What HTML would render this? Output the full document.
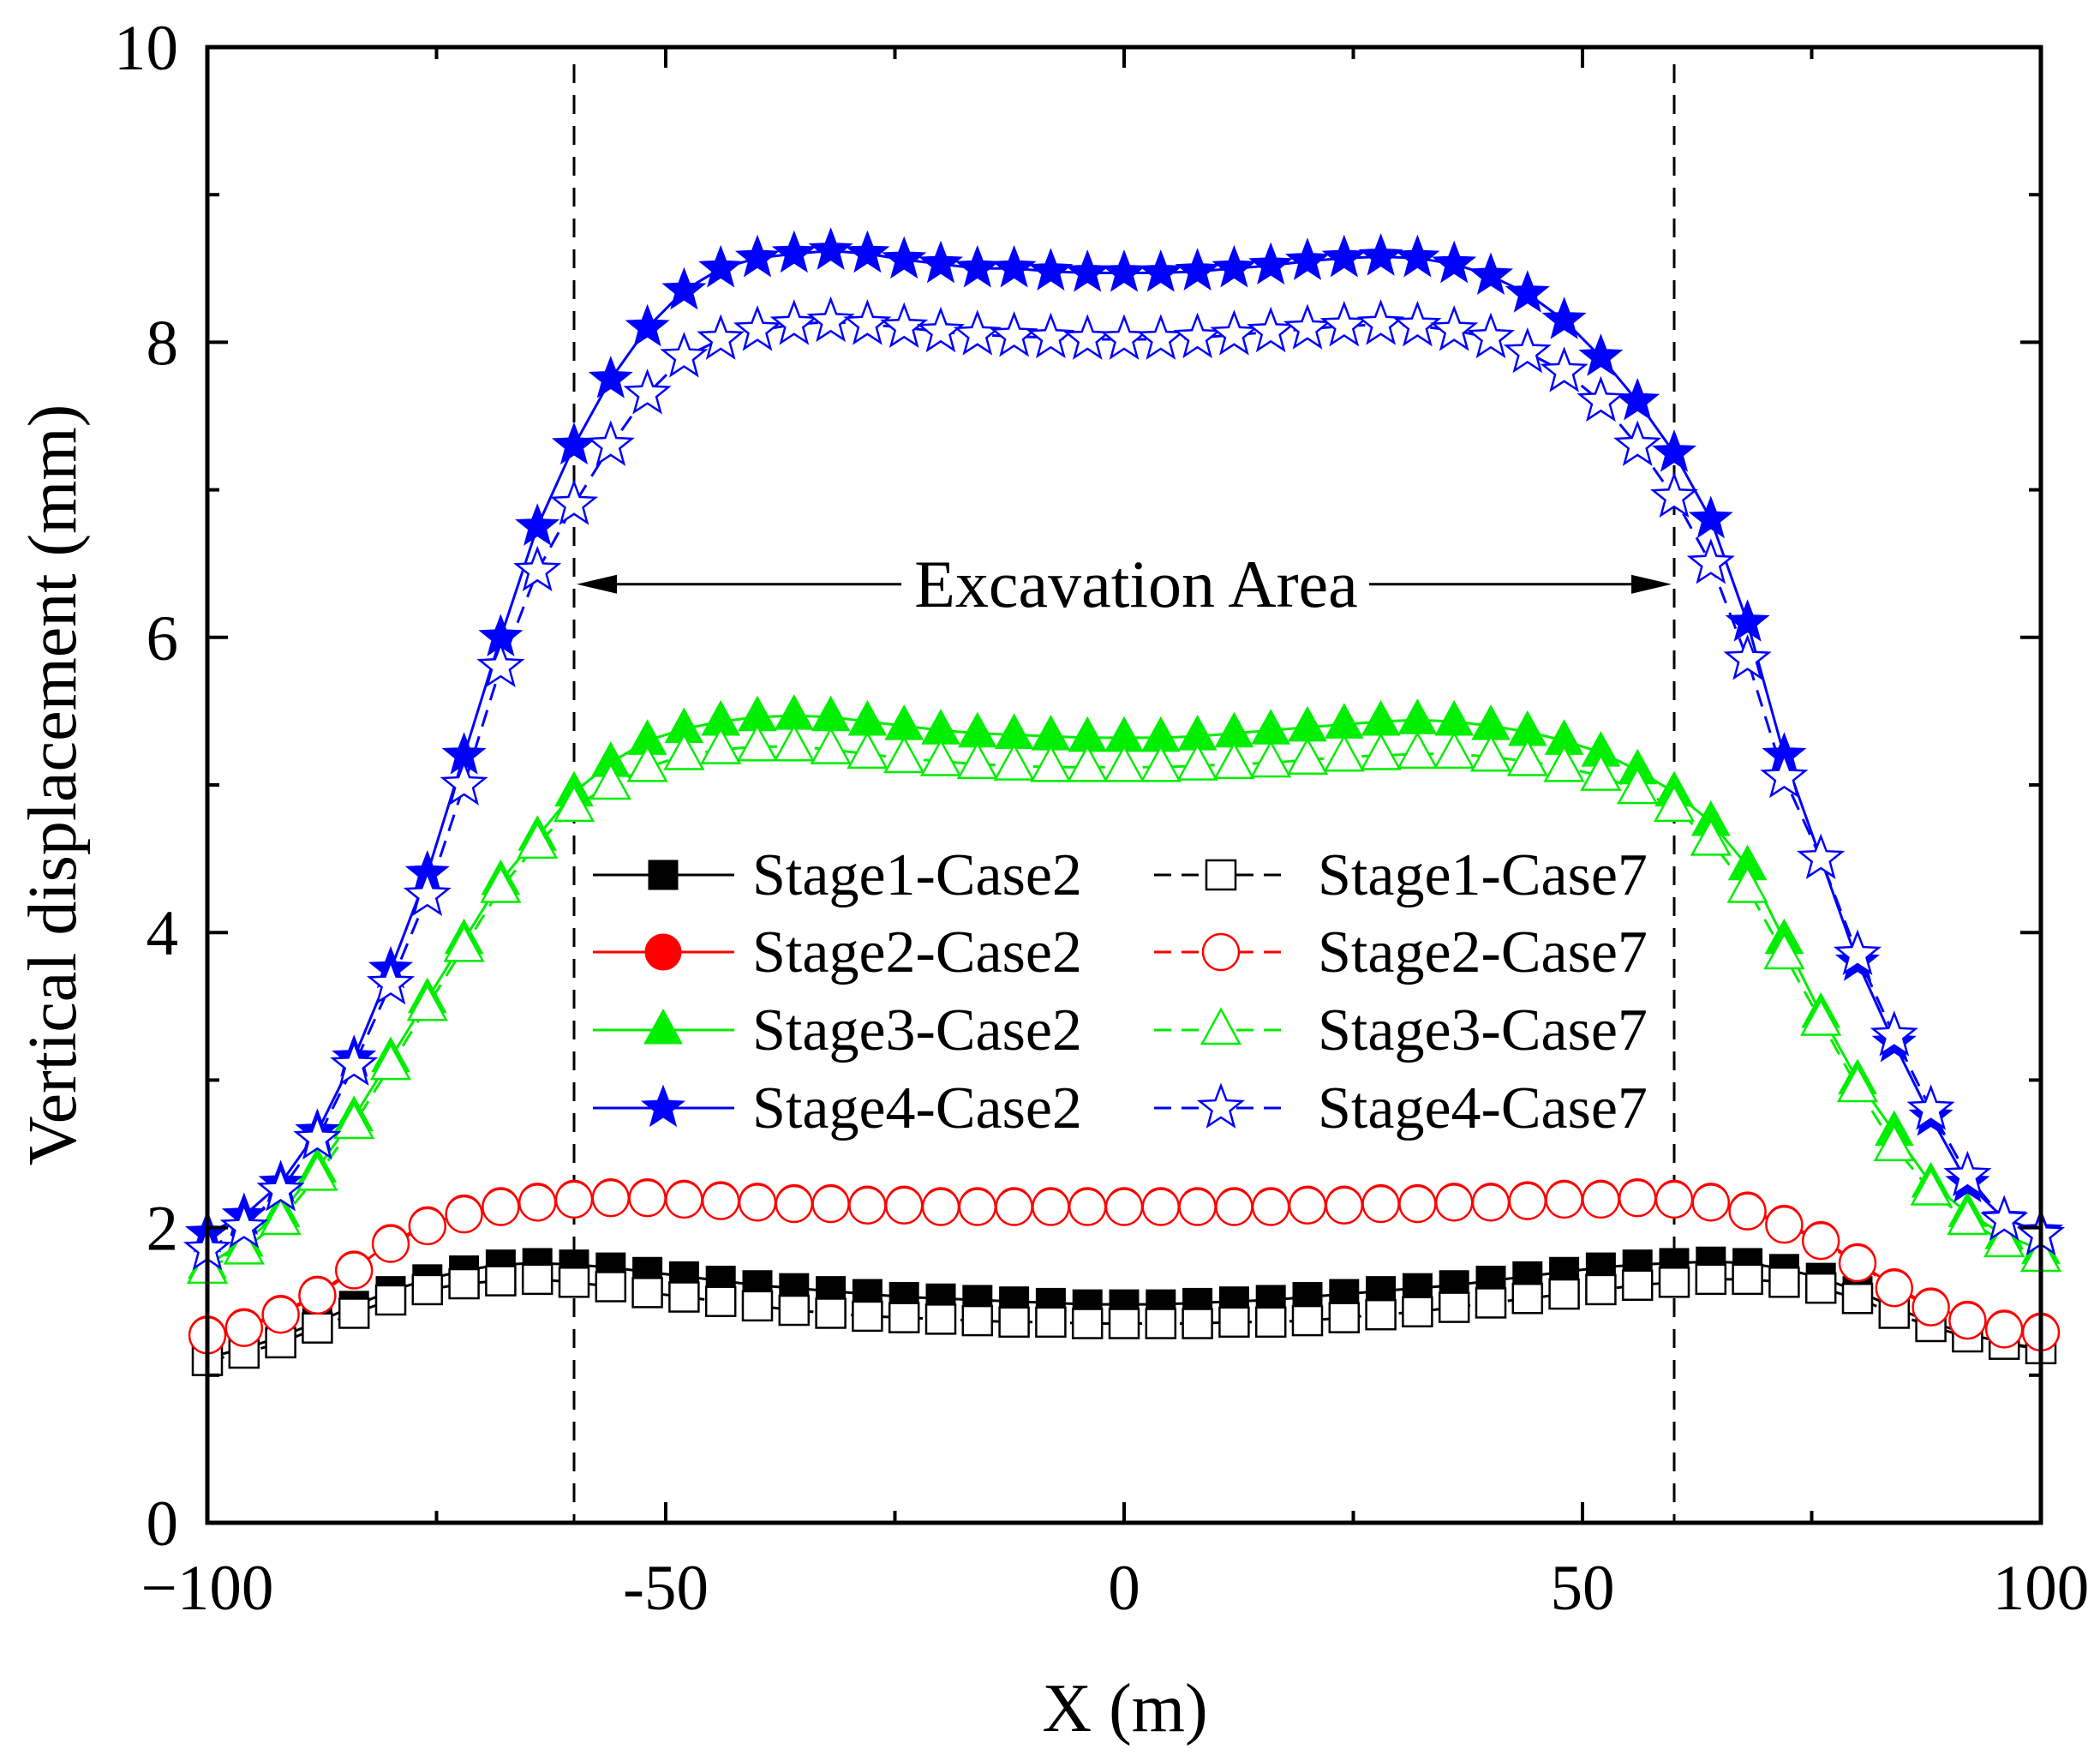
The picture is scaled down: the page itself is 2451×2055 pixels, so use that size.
<!DOCTYPE html>
<html><head><meta charset="utf-8"><style>
html,body{margin:0;padding:0;background:#fff}
svg{display:block}
text{font-family:"Liberation Serif",serif;fill:#000}
</style></head><body>
<svg id="chart" width="2451" height="2055" viewBox="0 0 2451 2055" xmlns="http://www.w3.org/2000/svg">
<rect width="2451" height="2055" fill="#fff"/>
<g id="marks"></g>
<g id="frame"></g>
</svg>
<script>
const xValues=[-100,-96,-92,-88,-84,-80,-76,-72,-68,-64,-60,-56,-52,-48,-44,-40,-36,-32,-28,-24,-20,-16,-12,-8,-4,0,4,8,12,16,20,24,28,32,36,40,44,48,52,56,60,64,68,72,76,80,84,88,92,96,100];
const s1c2=[1.12,1.18,1.26,1.36,1.47,1.57,1.65,1.71,1.75,1.76,1.75,1.73,1.7,1.67,1.64,1.61,1.59,1.57,1.55,1.53,1.52,1.51,1.5,1.49,1.48,1.48,1.48,1.49,1.5,1.51,1.53,1.55,1.57,1.59,1.61,1.64,1.67,1.7,1.73,1.75,1.76,1.77,1.76,1.72,1.66,1.57,1.46,1.36,1.28,1.22,1.18];
const s1c7=[1.1,1.15,1.22,1.32,1.42,1.51,1.58,1.62,1.64,1.65,1.63,1.6,1.56,1.53,1.5,1.47,1.44,1.42,1.4,1.39,1.38,1.37,1.36,1.36,1.35,1.35,1.35,1.35,1.36,1.36,1.37,1.39,1.41,1.43,1.46,1.49,1.52,1.55,1.58,1.61,1.63,1.65,1.65,1.63,1.59,1.52,1.42,1.33,1.26,1.21,1.18];
const s2c2=[1.28,1.33,1.42,1.55,1.72,1.9,2.02,2.1,2.15,2.18,2.2,2.21,2.21,2.2,2.19,2.18,2.17,2.17,2.16,2.16,2.15,2.15,2.15,2.15,2.15,2.15,2.15,2.15,2.15,2.15,2.16,2.16,2.17,2.17,2.18,2.18,2.19,2.2,2.2,2.21,2.2,2.18,2.12,2.03,1.92,1.77,1.6,1.47,1.38,1.32,1.3];
const s2c7=[1.27,1.32,1.41,1.54,1.71,1.89,2.01,2.09,2.14,2.17,2.19,2.2,2.2,2.19,2.18,2.17,2.16,2.16,2.15,2.15,2.14,2.14,2.14,2.14,2.14,2.14,2.14,2.14,2.14,2.14,2.15,2.15,2.16,2.16,2.17,2.17,2.18,2.19,2.19,2.2,2.19,2.17,2.11,2.02,1.91,1.76,1.59,1.46,1.37,1.31,1.29];
const s3c2=[1.75,1.9,2.1,2.4,2.75,3.15,3.55,3.95,4.35,4.65,4.95,5.15,5.3,5.38,5.43,5.46,5.47,5.46,5.43,5.4,5.37,5.35,5.34,5.33,5.32,5.32,5.32,5.33,5.35,5.37,5.39,5.41,5.43,5.44,5.43,5.4,5.36,5.3,5.22,5.1,4.95,4.75,4.45,3.95,3.45,3.0,2.65,2.3,2.1,1.95,1.85];
const s3c7=[1.72,1.85,2.05,2.35,2.7,3.1,3.5,3.9,4.3,4.6,4.85,5.0,5.12,5.2,5.24,5.26,5.26,5.24,5.21,5.18,5.16,5.14,5.13,5.12,5.12,5.12,5.12,5.13,5.14,5.15,5.17,5.19,5.2,5.21,5.21,5.19,5.16,5.12,5.06,4.97,4.85,4.62,4.3,3.85,3.4,2.95,2.55,2.25,2.05,1.9,1.8];
const s4c2=[1.96,2.08,2.3,2.65,3.15,3.75,4.4,5.2,6.0,6.75,7.3,7.75,8.1,8.35,8.5,8.57,8.6,8.62,8.6,8.56,8.53,8.5,8.5,8.48,8.47,8.47,8.47,8.48,8.5,8.52,8.55,8.57,8.58,8.57,8.53,8.45,8.33,8.15,7.9,7.6,7.25,6.8,6.1,5.2,4.5,3.8,3.25,2.75,2.3,2.06,1.97];
const s4c7=[1.85,2.0,2.25,2.6,3.1,3.65,4.25,5.0,5.8,6.45,6.9,7.3,7.65,7.9,8.02,8.08,8.12,8.14,8.12,8.1,8.07,8.05,8.04,8.03,8.02,8.02,8.02,8.03,8.05,8.07,8.09,8.11,8.12,8.11,8.08,8.03,7.93,7.8,7.6,7.3,6.95,6.5,5.85,5.05,4.5,3.85,3.3,2.8,2.35,2.05,1.95];
const xTicks=[-100,-50,0,50,100];
const xTickLabels=["\u2212100","-50","0","50","100"];
const yTicks=[0,2,4,6,8,10];
const yTickLabels=["0","2","4","6","8","10"];
const excavationBounds=[-60,60];
const excavationArrowY=6.36;
const legendLabels=["Stage1-Case2","Stage2-Case2","Stage3-Case2","Stage4-Case2","Stage1-Case7","Stage2-Case7","Stage3-Case7","Stage4-Case7"];

const L=242,R=2382,T=55,B=1777;
const sx=v=>L+(v+100)/200*(R-L);
const sy=v=>B-v/10*(B-T);
const NS="http://www.w3.org/2000/svg";
const marks=document.getElementById('marks');
const frame=document.getElementById('frame');
function mk(tag,parent){const e=document.createElementNS(NS,tag);parent.appendChild(e);return e;}

function marker(g,type,cx,cy,filled,color){
  let e;
  if(type==='sq'){e=mk('rect',g);e.setAttribute('x',cx-17);e.setAttribute('y',cy-17);e.setAttribute('width',34);e.setAttribute('height',34);}
  else if(type==='ci'){e=mk('circle',g);e.setAttribute('cx',cx);e.setAttribute('cy',cy);e.setAttribute('r',21);}
  else if(type==='tr'){e=mk('polygon',g);e.setAttribute('points',`${cx},${cy-24} ${cx+22},${cy+16} ${cx-22},${cy+16}`);}
  else {e=mk('polygon',g);let p=[];for(let i=0;i<10;i++){const a=-Math.PI/2+i*Math.PI/5;const r=i%2?11:26;p.push((cx+r*Math.cos(a)).toFixed(1)+','+(cy+r*Math.sin(a)).toFixed(1));}e.setAttribute('points',p.join(' '));}
  e.setAttribute('fill',filled?color:'#fff');
  e.setAttribute('stroke',color);e.setAttribute('stroke-width',filled?1:2.5);
  return e;
}

const seriesList=[
 {d:s1c2,t:'sq',f:true,c:'#000',dash:false,n:'stage1-case2'},
 {d:s1c7,t:'sq',f:false,c:'#000',dash:true,n:'stage1-case7'},
 {d:s2c2,t:'ci',f:true,c:'#ff0000',dash:false,n:'stage2-case2'},
 {d:s2c7,t:'ci',f:false,c:'#ff0000',dash:true,n:'stage2-case7'},
 {d:s3c2,t:'tr',f:true,c:'#00ee00',dash:false,n:'stage3-case2'},
 {d:s3c7,t:'tr',f:false,c:'#00ee00',dash:true,n:'stage3-case7'},
 {d:s4c2,t:'st',f:true,c:'#0000ff',dash:false,n:'stage4-case2'},
 {d:s4c7,t:'st',f:false,c:'#0000ff',dash:true,n:'stage4-case7'}
];

excavationBounds.forEach((b,i)=>{
  const l=mk('line',marks);
  
  
  l.setAttribute('x1',sx(b));l.setAttribute('x2',sx(b));l.setAttribute('y1',T+20);l.setAttribute('y2',B);
  l.setAttribute('stroke','#000');l.setAttribute('stroke-width',3);l.setAttribute('stroke-dasharray','22 14');
});
(function(){
  const y=sy(excavationArrowY),x1=sx(excavationBounds[0]),x2=sx(excavationBounds[1]);
  const g=mk('g',marks);
  
  
  const l1=mk('line',g);l1.setAttribute('x1',x1+40);l1.setAttribute('x2',1052);l1.setAttribute('y1',y);l1.setAttribute('y2',y);l1.setAttribute('stroke','#000');l1.setAttribute('stroke-width',3);
  const l2=mk('line',g);l2.setAttribute('x1',1598);l2.setAttribute('x2',x2-40);l2.setAttribute('y1',y);l2.setAttribute('y2',y);l2.setAttribute('stroke','#000');l2.setAttribute('stroke-width',3);
  const a1=mk('polygon',g);a1.setAttribute('points',`${x1+3},${y} ${x1+50},${y-11} ${x1+50},${y+11}`);
  const a2=mk('polygon',g);a2.setAttribute('points',`${x2-3},${y} ${x2-50},${y-11} ${x2-50},${y+11}`);
  const t=mk('text',g);t.setAttribute('x',1326);t.setAttribute('y',y+26);t.setAttribute('text-anchor','middle');t.setAttribute('font-size',78);t.textContent='Excavation Area';
})();

seriesList.forEach(s=>{
  const g=mk('g',marks);
  
  
  const pl=mk('polyline',g);
  
  
  pl.setAttribute('points',s.d.map((v,i)=>sx(xValues[i]).toFixed(1)+','+sy(v).toFixed(1)).join(' '));
  pl.setAttribute('fill','none');pl.setAttribute('stroke',s.c);pl.setAttribute('stroke-width',3);
  if(s.dash)pl.setAttribute('stroke-dasharray','20 12');
  s.d.forEach((v,i)=>{
    const m=marker(g,s.t,sx(xValues[i]),sy(v),s.f,s.c);
    
    
  });
});

(function(){
  const g=mk('g',marks);
  
  
  const order=[0,2,4,6,1,3,5,7];
  const rowsY=[1021,1111,1202,1293];
  order.forEach((si,k)=>{
    const s=seriesList[si],col=k<4?0:1,row=k%4;
    const lx1=col?1347:692,lx2=col?1500:857,mx=col?1425:774,tx=col?1538:878,y=rowsY[row];
    const e=mk('g',g);
    
    
    const l=mk('line',e);l.setAttribute('x1',lx1);l.setAttribute('x2',lx2);l.setAttribute('y1',y);l.setAttribute('y2',y);l.setAttribute('stroke',s.c);l.setAttribute('stroke-width',3);
    if(s.dash)l.setAttribute('stroke-dasharray','20 12');
    marker(e,s.t,mx,y,s.f,s.c);
    const t=mk('text',e);t.setAttribute('x',tx);t.setAttribute('y',y+23);t.setAttribute('font-size',70);t.textContent=legendLabels[si%2===0?si/2:4+(si-1)/2];
  });
})();

(function(){
  const r=mk('rect',frame);
  r.setAttribute('x',L);r.setAttribute('y',T);r.setAttribute('width',R-L);r.setAttribute('height',B-T);r.setAttribute('fill','none');r.setAttribute('stroke','#000');r.setAttribute('stroke-width',5);
  function tick(x1,y1,x2,y2){const l=mk('line',frame);l.setAttribute('x1',x1);l.setAttribute('y1',y1);l.setAttribute('x2',x2);l.setAttribute('y2',y2);l.setAttribute('stroke','#000');l.setAttribute('stroke-width',4);}
  for(let v=-100;v<=100;v+=25){const x=sx(v),len=(v%50===0)?24:14;tick(x,B,x,B-len);tick(x,T,x,T+len);}
  for(let v=0;v<=10;v+=1){const y=sy(v),len=(v%2===0)?24:14;tick(L,y,L+len,y);tick(R,y,R-len,y);}
  xTicks.forEach((v,i)=>{const t=mk('text',frame);t.setAttribute('x',sx(v));t.setAttribute('y',1878);t.setAttribute('text-anchor','middle');t.setAttribute('font-size',75);t.textContent=xTickLabels[i];});
  yTicks.forEach((v,i)=>{const t=mk('text',frame);t.setAttribute('x',208);t.setAttribute('y',sy(v)+26);t.setAttribute('text-anchor','end');t.setAttribute('font-size',75);t.textContent=yTickLabels[i];});
  const xt=mk('text',frame);xt.setAttribute('x',1313);xt.setAttribute('y',2020);xt.setAttribute('text-anchor','middle');xt.setAttribute('font-size',80);xt.textContent='X (m)';
  const yt=mk('text',frame);yt.setAttribute('transform','translate(88,916) rotate(-90)');yt.setAttribute('text-anchor','middle');yt.setAttribute('font-size',80);yt.textContent='Vertical displacement (mm)';
})();
</script>
</body></html>
